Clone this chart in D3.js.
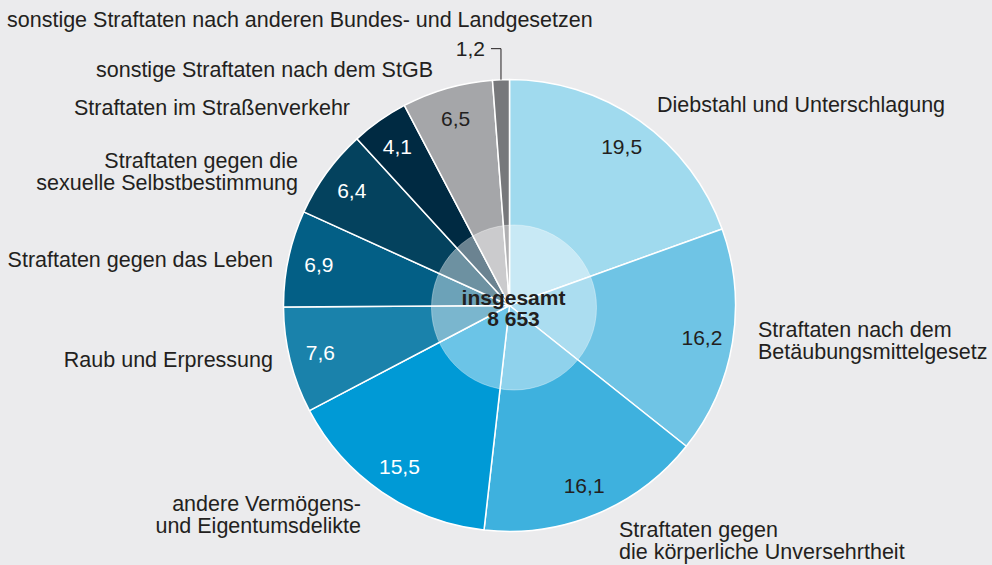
<!DOCTYPE html>
<html>
<head>
<meta charset="utf-8">
<script src="https://cdn.jsdelivr.net/npm/d3@7"></script>
<style>
  html, body { margin: 0; padding: 0; background: #ebebed; }
  svg { display: block; font-family: "Liberation Sans", Arial, Helvetica, sans-serif; }
  .cat { font-size: 21.5px; fill: #231f20; }
  .val { font-size: 21px; }
  .total { font-size: 21px; font-weight: bold; fill: #231f20; }
</style>
</head>
<body>
<div id="chart"></div>
<script>
// Anteile in Prozent, im Uhrzeigersinn ab 12 Uhr
const categories = [
  ['Diebstahl und Unterschlagung'],
  ['Straftaten nach dem', 'Betäubungsmittelgesetz'],
  ['Straftaten gegen', 'die körperliche Unversehrtheit'],
  ['andere Vermögens-', 'und Eigentumsdelikte'],
  ['Raub und Erpressung'],
  ['Straftaten gegen das Leben'],
  ['Straftaten gegen die', 'sexuelle Selbstbestimmung'],
  ['Straftaten im Straßenverkehr'],
  ['sonstige Straftaten nach dem StGB'],
  ['sonstige Straftaten nach anderen Bundes- und Landgesetzen']
];
const values = [19.5, 16.2, 16.1, 15.5, 7.6, 6.9, 6.4, 4.1, 6.5, 1.2];
const totalLabel = ['insgesamt', '8 653'];

const colors = ['#a0daee', '#6fc4e5', '#3eb1de', '#009ad6', '#1a82ab',
                '#035f86', '#04425e', '#002a42', '#a5a6a9', '#77787b'];
const darkText = [true, true, true, false, false, false, false, false, true, true];

/** label placement: x, first baseline, text-anchor */
const labelPos = [
  [657, 112, 'start'],
  [758, 337, 'start'],
  [619, 537, 'start'],
  [361, 511, 'end'],
  [273, 367, 'end'],
  [273, 267, 'end'],
  [298, 168, 'end'],
  [350, 115, 'end'],
  [433, 77, 'end'],
  [7, 27, 'start']
];

const width = 992, height = 565;
const cx = 509.5, cy = 305.5, radius = 226;
const lineHeight = 22;
const fmt = v => String(v).replace('.', ',');

const svg = d3.select('#chart').append('svg')
  .attr('width', width)
  .attr('height', height);

svg.append('rect').attr('width', width).attr('height', height).attr('fill', '#ebebed');

const pie = d3.pie().sort(null).value(d => d);
const arcs = pie(values);
const arc = d3.arc().innerRadius(0).outerRadius(radius);
const labelArc = d3.arc().innerRadius(195).outerRadius(195);

const g = svg.append('g').attr('transform', `translate(${cx}, ${cy})`);

g.selectAll('path.slice')
  .data(arcs)
  .enter().append('path')
  .attr('class', 'slice')
  .attr('d', arc)
  .attr('fill', (d, i) => colors[i])
  .attr('stroke', '#fff')
  .attr('stroke-width', 1.5)
  .attr('stroke-linejoin', 'round');

// lighter inner disc
svg.append('circle')
  .attr('cx', cx + 4.5)
  .attr('cy', cy + 2)
  .attr('r', 82.5)
  .attr('fill', '#fff')
  .attr('fill-opacity', 0.42)
  .attr('stroke', '#fff')
  .attr('stroke-opacity', 0.35)
  .attr('stroke-width', 1);

// value labels inside the slices (except the smallest one)
g.selectAll('text.val')
  .data(arcs.filter(d => d.index < values.length - 1))
  .enter().append('text')
  .attr('class', 'val')
  .attr('transform', d => `translate(${labelArc.centroid(d)})`)
  .attr('text-anchor', 'middle')
  .attr('dy', '0.36em')
  .attr('fill', d => darkText[d.index] ? '#231f20' : '#fff')
  .text(d => fmt(d.data));

// smallest slice: value outside with leader line
const last = arcs[arcs.length - 1];
const mid = (last.startAngle + last.endAngle) / 2;
const ex = Math.sin(mid) * radius, ey = -Math.cos(mid) * radius;
g.append('path')
  .attr('d', `M${ex},${ey}V${ey - 31}H${ex - 10}`)
  .attr('fill', 'none')
  .attr('stroke', '#231f20')
  .attr('stroke-width', 1);
g.append('text')
  .attr('class', 'val')
  .attr('x', ex - 16)
  .attr('y', ey - 31)
  .attr('dy', '0.36em')
  .attr('text-anchor', 'end')
  .attr('fill', '#231f20')
  .text(fmt(last.data));

// category labels
categories.forEach((lines, i) => {
  const [x, y, anchor] = labelPos[i];
  const t = svg.append('text')
    .attr('class', 'cat')
    .attr('text-anchor', anchor);
  lines.forEach((line, j) => {
    t.append('tspan').attr('x', x).attr('y', y + j * lineHeight).text(line);
  });
});

// total in the centre
svg.append('text')
  .attr('class', 'total')
  .attr('text-anchor', 'middle')
  .selectAll('tspan')
  .data(totalLabel)
  .enter().append('tspan')
  .attr('x', cx + 4)
  .attr('y', (d, i) => 305 + i * 21)
  .text(d => d);
</script>
</body>
</html>
